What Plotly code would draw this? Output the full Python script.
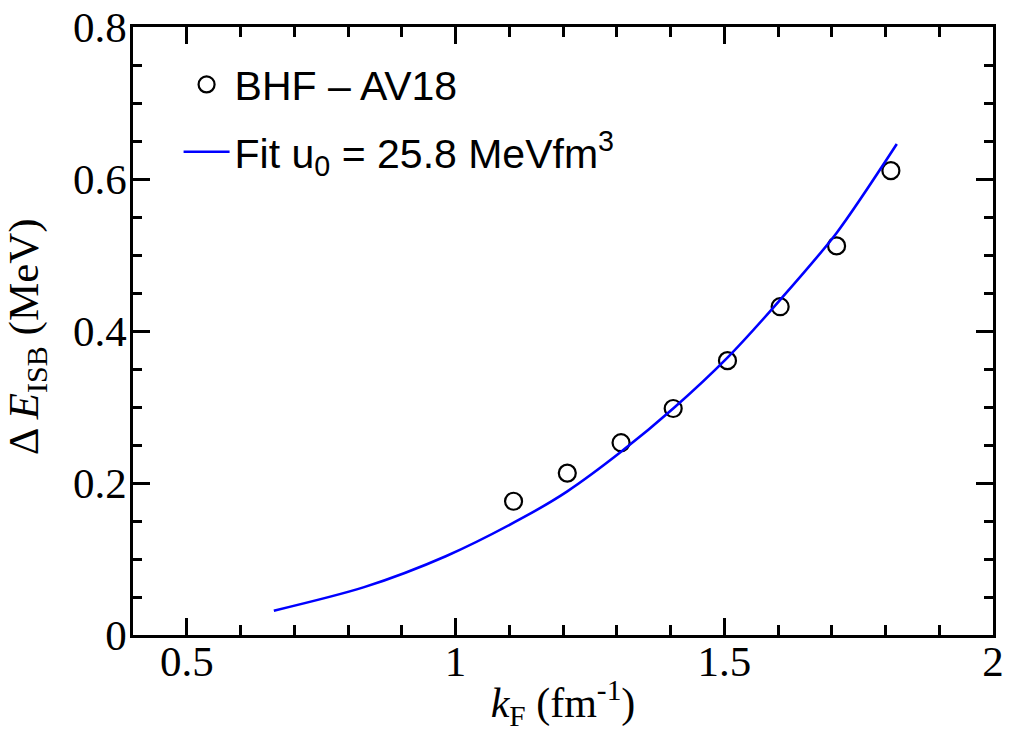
import plotly.graph_objects as go

# BHF - AV18 points
kf_bhf = [1.108, 1.208, 1.308, 1.405, 1.506, 1.604, 1.709, 1.810]
de_bhf = [0.176, 0.213, 0.253, 0.298, 0.361, 0.432, 0.512, 0.611]

# Fit curve
kf_fit = [0.662, 0.83, 0.983, 1.127, 1.208, 1.308, 1.405, 1.506, 1.604, 1.709, 1.821]
de_fit = [0.032, 0.063, 0.104, 0.155, 0.189, 0.241, 0.298, 0.365, 0.441, 0.529, 0.646]

x_ticks = [0.5, 1, 1.5, 2]
x_ticklabels = ["0.5", "1", "1.5", "2"]
y_ticks = [0, 0.2, 0.4, 0.6, 0.8]
y_ticklabels = ["0", "0.2", "0.4", "0.6", "0.8"]

x_title = "<i>k</i><sub>F</sub> (fm<sup>-1</sup>)"
y_title = "\u0394 <i>E</i><sub>ISB</sub> (MeV)"

serif = "Liberation Serif"
sans = "Liberation Sans"

fig = go.Figure()
fig.add_trace(go.Scatter(
    x=kf_bhf, y=de_bhf, mode="markers", name="BHF \u2013 AV18", legendgroup="a",
    marker=dict(symbol="circle-open", size=17, color="black", line=dict(width=2.2, color="black")),
))
fig.add_trace(go.Scatter(
    x=kf_fit, y=de_fit, mode="lines", name="Fit u<sub>0</sub> = 25.8 MeVfm<sup>3</sup>", legendgroup="b",
    line=dict(color="#0000ff", width=2.6, shape="spline", smoothing=0.8),
))

axis_common = dict(
    showline=True, linecolor="black", linewidth=2.5, mirror="allticks",
    ticks="inside", tickcolor="black", tickwidth=2.5, ticklen=17,
    showgrid=False, zeroline=False, automargin=False,
    tickfont=dict(family=serif, size=43, color="black"),
)

fig.update_xaxes(
    range=[0.4, 2.0], tickmode="array", tickvals=x_ticks, ticktext=x_ticklabels,
    ticklabelstandoff=-13,
    minor=dict(dtick=0.1, ticks="inside", ticklen=10, tickwidth=2.5, tickcolor="black", showgrid=False),
    title=dict(text=x_title, font=dict(family=serif, size=42, color="black"), standoff=4),
    **axis_common,
)
fig.update_yaxes(
    range=[0, 0.8], tickmode="array", tickvals=y_ticks, ticktext=y_ticklabels,
    ticklabelstandoff=-5,
    minor=dict(dtick=0.05, ticks="inside", ticklen=9, tickwidth=2.5, tickcolor="black", showgrid=False),
    **axis_common,
)

fig.add_annotation(
    text=y_title, xref="paper", yref="paper", x=-0.123, y=0.49,
    xanchor="center", yanchor="middle", textangle=-90, showarrow=False,
    font=dict(family=serif, size=43, color="black"),
)

fig.update_layout(
    width=1011, height=744,
    margin=dict(l=133, r=18, t=27, b=109),
    paper_bgcolor="white", plot_bgcolor="white",
    showlegend=True,
    legend=dict(x=0.053, y=0.96, xanchor="left", yanchor="top",
                font=dict(family=sans, size=41, color="black"),
                itemwidth=46, traceorder="grouped", tracegroupgap=11,
                bgcolor="rgba(0,0,0,0)", borderwidth=0),
)

fig.write_html("out.html")
